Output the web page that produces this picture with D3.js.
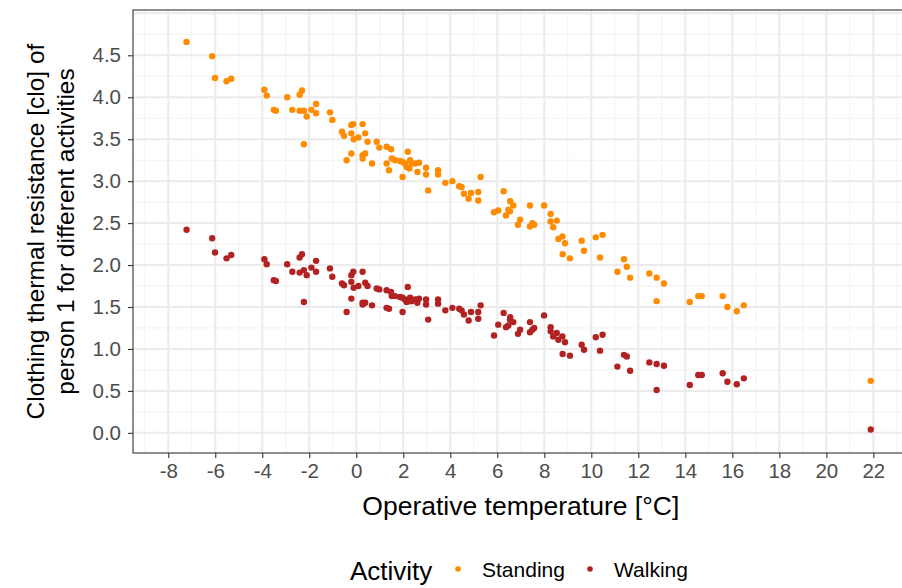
<!DOCTYPE html>
<html>
<head>
<meta charset="utf-8">
<script src="https://cdn.jsdelivr.net/npm/d3@7"></script>
<style>
  body { margin: 0; background: #fff; }
  svg { font-family: "Liberation Sans", Arial, sans-serif; display: block; }
</style>
</head>
<body>
<svg id="chart" width="902" height="588"></svg>
<script>
// operative temperature [°C] for each test, with clo for the two activities
const temperature = [
  -7.22, -6.13, -6.01, -5.52, -5.32, -3.91, -3.81, -3.51, -3.42, -2.94,
  -2.41, -2.31, -2.72, -2.41, -2.23, -2.11, -1.91, -1.71, -1.71, -2.23,
  -1.12, -1.02, -0.61, -0.52, -0.21, -0.13, 0.27, -0.21, -0.11, 0.09,
  0.38, 0.48, 0.87, 0.98, -0.21, -0.41, 0.27, 0.38, 0.27, 0.67,
  1.29, 1.48, 1.29, 1.39, 1.51, 1.65, 1.97, 2.19, 2.07, 2.29,
  2.14, 2.26, 2.36, 2.50, 2.67, 2.60, 1.97, 1.86, 2.97, 2.97,
  3.06, 3.48, 3.48, 3.79, 4.09, 4.38, 4.48, 4.58, 4.88, 4.78,
  5.19, 5.19, 5.29, 6.27, 5.86, 6.04, 6.55, 6.68, 6.47, 6.54,
  6.37, 6.97, 6.88, 7.39, 7.49, 7.39, 7.57, 7.99, 8.27, 8.27,
  8.53, 8.38, 8.60, 8.77, 8.88, 8.78, 9.09, 9.59, 9.69, 10.19,
  10.48, 10.37, 11.11, 11.39, 11.51, 11.65, 12.47, 12.78, 13.09, 12.78,
  14.19, 14.55, 14.70, 15.59, 15.79, 16.19, 16.49, 21.89
];
const standing = [
  4.66, 4.49, 4.23, 4.19, 4.22, 4.09, 4.02, 3.85, 3.84, 4.00,
  4.03, 4.08, 3.85, 3.84, 3.84, 3.77, 3.85, 3.92, 3.81, 3.44,
  3.82, 3.73, 3.59, 3.54, 3.67, 3.68, 3.68, 3.57, 3.50, 3.52,
  3.57, 3.47, 3.47, 3.40, 3.33, 3.25, 3.31, 3.33, 3.27, 3.21,
  3.41, 3.38, 3.21, 3.13, 3.27, 3.25, 3.23, 3.35, 3.21, 3.25,
  3.17, 3.15, 3.21, 3.21, 3.22, 3.11, 3.05, 3.24, 3.16, 3.08,
  2.89, 3.13, 3.08, 2.98, 3.00, 2.94, 2.93, 2.85, 2.86, 2.79,
  2.87, 2.77, 3.05, 2.88, 2.63, 2.65, 2.76, 2.71, 2.66, 2.64,
  2.59, 2.54, 2.48, 2.71, 2.50, 2.46, 2.48, 2.71, 2.61, 2.52,
  2.53, 2.45, 2.31, 2.34, 2.26, 2.13, 2.08, 2.29, 2.17, 2.33,
  2.36, 2.09, 1.92, 2.07, 1.98, 1.85, 1.90, 1.85, 1.78, 1.57,
  1.56, 1.63, 1.63, 1.63, 1.50, 1.45, 1.52, 0.62
];
const walking = [
  2.42, 2.32, 2.15, 2.08, 2.12, 2.07, 2.01, 1.82, 1.81, 2.01,
  2.09, 2.13, 1.92, 1.91, 1.94, 1.88, 1.97, 2.05, 1.92, 1.56,
  1.96, 1.86, 1.78, 1.76, 1.88, 1.92, 1.92, 1.80, 1.73, 1.75,
  1.79, 1.75, 1.72, 1.71, 1.60, 1.44, 1.55, 1.55, 1.53, 1.52,
  1.70, 1.68, 1.49, 1.48, 1.63, 1.63, 1.61, 1.74, 1.59, 1.61,
  1.56, 1.57, 1.57, 1.59, 1.60, 1.55, 1.44, 1.62, 1.59, 1.53,
  1.35, 1.59, 1.54, 1.46, 1.49, 1.48, 1.46, 1.41, 1.44, 1.34,
  1.44, 1.36, 1.52, 1.43, 1.16, 1.29, 1.38, 1.32, 1.28, 1.35,
  1.26, 1.23, 1.18, 1.32, 1.23, 1.20, 1.25, 1.40, 1.26, 1.21,
  1.19, 1.15, 1.11, 1.15, 1.08, 0.94, 0.92, 1.05, 0.99, 1.14,
  1.17, 0.98, 0.79, 0.93, 0.91, 0.74, 0.84, 0.82, 0.80, 0.51,
  0.57, 0.69, 0.69, 0.71, 0.61, 0.58, 0.65, 0.04
];
const activities = ["Standing", "Walking"];
const activityColors = ["#FF8C00", "#B22222"];
const xTicks = d3.range(-8, 23, 2);
const yTicks = [0, 0.5, 1, 1.5, 2, 2.5, 3, 3.5, 4, 4.5];

const svg = d3.select("#chart");
const panel = {left: 133, top: 10, right: 908.6, bottom: 453};

const x = d3.scaleLinear().domain([-9.5, 23.5]).range([panel.left, panel.right]);
const y = d3.scaleLinear().domain([-0.24, 5.04]).range([panel.bottom, panel.top]);
const color = d3.scaleOrdinal().domain(activities).range(activityColors);

// grid: minor first, then major
const grid = svg.append("g");
const xMinor = d3.range(-9, 24, 2);
const yMinor = d3.range(0.25, 5, 0.5);
grid.selectAll(".xminor").data(xMinor).join("line")
    .attr("x1", d => x(d)).attr("x2", d => x(d))
    .attr("y1", panel.top).attr("y2", panel.bottom)
    .attr("stroke", "#F2F2F2").attr("stroke-width", 1);
grid.selectAll(".yminor").data(yMinor).join("line")
    .attr("y1", d => y(d)).attr("y2", d => y(d))
    .attr("x1", panel.left).attr("x2", panel.right)
    .attr("stroke", "#F2F2F2").attr("stroke-width", 1);
grid.selectAll(".xmajor").data(xTicks).join("line")
    .attr("x1", d => x(d)).attr("x2", d => x(d))
    .attr("y1", panel.top).attr("y2", panel.bottom)
    .attr("stroke", "#EBEBEB").attr("stroke-width", 2);
grid.selectAll(".ymajor").data(yTicks.concat([5])).join("line")
    .attr("y1", d => y(d)).attr("y2", d => y(d))
    .attr("x1", panel.left).attr("x2", panel.right)
    .attr("stroke", "#EBEBEB").attr("stroke-width", 2);

// points
const rows = temperature.flatMap((t, i) => [
  {t: t, clo: standing[i], act: "Standing"},
  {t: t, clo: walking[i], act: "Walking"}
]);
svg.append("g").selectAll("circle").data(rows).join("circle")
    .attr("cx", d => x(d.t))
    .attr("cy", d => y(d.clo))
    .attr("r", 3.2)
    .attr("fill", d => color(d.act));

// panel border
svg.append("rect")
    .attr("x", panel.left).attr("y", panel.top)
    .attr("width", panel.right - panel.left).attr("height", panel.bottom - panel.top)
    .attr("fill", "none").attr("stroke", "#333333").attr("stroke-width", 1.1);

// axes
const xAxis = svg.append("g")
    .attr("transform", `translate(0,${panel.bottom})`)
    .call(d3.axisBottom(x).tickValues(xTicks).tickSize(5).tickPadding(5).tickFormat(d => d < 0 ? "-" + Math.abs(d) : d));
const yAxis = svg.append("g")
    .attr("transform", `translate(${panel.left},0)`)
    .call(d3.axisLeft(y).tickValues(yTicks).tickSize(5).tickPadding(7).tickFormat(d3.format(".1f")));
[xAxis, yAxis].forEach(a => {
  a.select(".domain").remove();
  a.selectAll(".tick line").attr("stroke", "#333333").attr("stroke-width", 1.1);
  a.selectAll(".tick text").attr("fill", "#4D4D4D").attr("font-size", 20.5)
      .attr("font-family", "Liberation Sans, Arial, sans-serif");
});

// titles
svg.append("text")
    .attr("x", (panel.left + panel.right) / 2).attr("y", 515)
    .attr("text-anchor", "middle").attr("font-size", 26.5)
    .text("Operative temperature [°C]");
const yTitle = svg.append("text")
    .attr("transform", `translate(0,${(panel.top + panel.bottom) / 2}) rotate(-90)`)
    .attr("text-anchor", "middle").attr("font-size", 24.5);
yTitle.append("tspan").attr("x", 0).attr("y", 44).text("Clothing thermal resistance [clo] of");
yTitle.append("tspan").attr("x", 0).attr("y", 74).text("person 1 for different activities");

// legend
const legend = svg.append("g");
legend.append("text").attr("x", 350).attr("y", 580).attr("font-size", 26).text("Activity");
const legendX = [458, 590];
activities.forEach((a, i) => {
  legend.append("circle").attr("cx", legendX[i]).attr("cy", 569).attr("r", 2.8).attr("fill", color(a));
  legend.append("text").attr("x", legendX[i] + 24).attr("y", 577).attr("font-size", 21).text(a);
});
</script>
</body>
</html>
